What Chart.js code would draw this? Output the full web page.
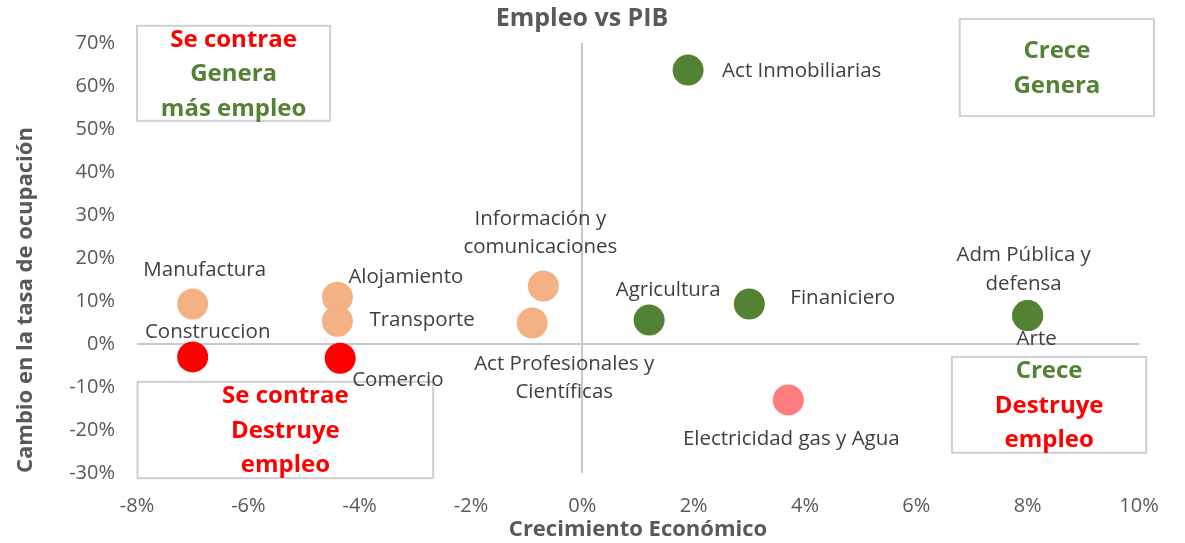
<!DOCTYPE html>
<html>
<head>
<meta charset="utf-8">
<script src="https://cdn.jsdelivr.net/npm/chart.js@4.4.0/dist/chart.umd.min.js"></script>
<style>
html,body{margin:0;padding:0;background:#ffffff;}
#wrap{width:1185px;height:543px;}
</style>
</head>
<body>
<div id="wrap"><canvas id="c" width="1185" height="543"></canvas></div>
<script>
// ---- Data ----
const sectors = ['Act Inmobiliarias', 'Arte', 'Adm Pública y defensa', 'Finaniciero', 'Agricultura',
  'Electricidad gas y Agua', 'Información y comunicaciones', 'Act Profesionales y Científicas',
  'Alojamiento', 'Transporte', 'Manufactura', 'Construccion', 'Comercio'];
const growth = [1.9, 8.0, 8.0, 3.0, 1.2, 3.7, -0.7, -0.9, -4.4, -4.4, -7.0, -7.0, -4.35];      // Crecimiento Económico (%)
const employment = [63.7, 6.6, 6.6, 9.3, 5.6, -13.0, 13.5, 4.9, 10.9, 5.3, 9.3, -3.0, -3.3];     // Cambio en la tasa de ocupación (%)
const xTicks = [-8, -6, -4, -2, 0, 2, 4, 6, 8, 10];
const yTicks = [-30, -20, -10, 0, 10, 20, 30, 40, 50, 60, 70];

const chartTitle = 'Empleo vs PIB';
const xTitle = 'Crecimiento Económico';
const yTitle = 'Cambio en la tasa de ocupación';

// ---- Styles ----
const GREEN = '#548235', ORANGE = '#F4B183', RED = '#FF0000', SALMON = '#FF7C80';
const GREY = '#595959', LABEL = '#404040', AXISLINE = '#c8c8c8';
const FONT = '"Open Sans", "Noto Sans", sans-serif';

function quadColor(x, y) {
  if (x >= 0) return y >= 0 ? GREEN : SALMON;
  return y >= 0 ? ORANGE : RED;
}

// label placement relative to the point (px), a style setting
const labelPlacement = {
  'Act Inmobiliarias': {dx: 34, dy: 1, align: 'left'},
  'Arte': {dx: 9, dy: 24, align: 'center'},
  'Adm Pública y defensa': {dx: -4, dy: -60, align: 'center', lines: ['Adm Pública y', 'defensa']},
  'Finaniciero': {dx: 41, dy: -6, align: 'left'},
  'Agricultura': {dx: 19, dy: -30, align: 'center'},
  'Electricidad gas y Agua': {dx: 3, dy: 39, align: 'center'},
  'Información y comunicaciones': {dx: -3, dy: -67, align: 'center', lines: ['Información y', 'comunicaciones']},
  'Act Profesionales y Científicas': {dx: 32, dy: 41, align: 'center', lines: ['Act Profesionales y', 'Científicas']},
  'Alojamiento': {dx: 11, dy: -20, align: 'left'},
  'Transporte': {dx: 32, dy: -1, align: 'left'},
  'Manufactura': {dx: 12, dy: -34, align: 'center'},
  'Construccion': {dx: 15, dy: -25, align: 'center'},
  'Comercio': {dx: 12, dy: 22, align: 'left'}
};

// quadrant note boxes (in data units)
const quadrantBoxes = [
  {x0: -8.0, x1: -4.53, y0: 51.9, y1: 74.0, lines: [['Se contrae', RED], ['Genera', GREEN], ['más empleo', GREEN]]},
  {x0: 6.78, x1: 10.27, y0: 53.0, y1: 75.6, lines: [['Crece', GREEN], ['Genera', GREEN]]},
  {x0: -7.99, x1: -2.68, y0: -31.2, y1: -8.8, lines: [['Se contrae', RED], ['Destruye', RED], ['empleo', RED]]},
  {x0: 6.64, x1: 10.13, y0: -25.3, y1: -3.0, lines: [['Crece', GREEN], ['Destruye', RED], ['empleo', RED]]}
];

const points = growth.map((g, i) => ({x: g, y: employment[i]}));

const annotPlugin = {
  id: 'annot',
  beforeDatasetsDraw(chart) {
    const {ctx, scales: {x, y}} = chart;
    ctx.save();
    quadrantBoxes.forEach(b => {
      const l = x.getPixelForValue(b.x0), r = x.getPixelForValue(b.x1);
      const t = y.getPixelForValue(b.y1), bt = y.getPixelForValue(b.y0);
      ctx.fillStyle = '#ffffff';
      ctx.fillRect(l, t, r - l, bt - t);
      ctx.strokeStyle = '#d0d0d0';
      ctx.lineWidth = 2;
      ctx.strokeRect(l, t, r - l, bt - t);
      ctx.font = 'bold 24px ' + FONT;
      ctx.textAlign = 'center';
      ctx.textBaseline = 'middle';
      const cx = (l + r) / 2, cy = (t + bt) / 2, n = b.lines.length, lh = 34.5;
      b.lines.forEach((ln, i) => {
        ctx.fillStyle = ln[1];
        ctx.fillText(ln[0], cx, cy + (i - (n - 1) / 2) * lh + 1);
      });
    });
    ctx.restore();
  },
  afterDatasetsDraw(chart) {
    const {ctx} = chart;
    const meta = chart.getDatasetMeta(0);
    ctx.save();
    ctx.font = '20.5px ' + FONT;
    ctx.fillStyle = LABEL;
    ctx.textBaseline = 'middle';
    sectors.forEach((name, i) => {
      const p = labelPlacement[name];
      const el = meta.data[i];
      if (!p || !el) return;
      const lines = p.lines || [name];
      ctx.textAlign = p.align;
      lines.forEach((ln, k) => {
        ctx.fillText(ln, el.x + p.dx, el.y + p.dy + k * 28.5);
      });
    });
    // chart title
    ctx.font = 'bold 25px ' + FONT;
    ctx.fillStyle = GREY;
    ctx.textAlign = 'center';
    ctx.fillText(chartTitle, 582, 19);
    ctx.restore();
  }
};

new Chart(document.getElementById('c'), {
  type: 'scatter',
  data: {
    labels: sectors,
    datasets: [{
      label: 'Sectores',
      data: points,
      backgroundColor: ctx => { const r = ctx.raw; return r ? quadColor(r.x, r.y) : GREEN; },
      borderWidth: 0,
      pointRadius: 15.5,
      pointHoverRadius: 15.5
    }]
  },
  options: {
    responsive: false,
    animation: false,
    devicePixelRatio: 1,
    layout: {padding: {left: 0, right: 46, top: 43, bottom: 0}},
    plugins: {legend: {display: false}, tooltip: {enabled: false}, title: {display: false}},
    scales: {
      x: {
        type: 'linear', min: -8, max: 10,
        afterBuildTicks: s => { s.ticks = xTicks.map(v => ({value: v})); },
        afterFit: s => { s.height = 70; },
        ticks: {callback: v => v + '%', font: {family: FONT, size: 20}, color: GREY, padding: 21, maxRotation: 0},
        grid: {drawTicks: false, lineWidth: 2, color: c => (c.tick && c.tick.value === 0) ? AXISLINE : 'rgba(0,0,0,0)'},
        border: {display: false},
        title: {display: true, text: xTitle, color: GREY, font: {family: FONT, size: 22, weight: 'bold'}, padding: {top: 0, bottom: 0}}
      },
      y: {
        type: 'linear', min: -30, max: 70,
        afterBuildTicks: s => { s.ticks = yTicks.map(v => ({value: v})); },
        afterFit: s => { s.width = 137; },
        ticks: {callback: v => v + '%', font: {family: FONT, size: 20}, color: GREY, padding: 22},
        grid: {drawTicks: false, lineWidth: 2, color: c => (c.tick && c.tick.value === 0) ? AXISLINE : 'rgba(0,0,0,0)'},
        border: {display: false},
        title: {display: true, text: yTitle, align: 'start', color: GREY, font: {family: FONT, size: 22, weight: 'bold'}, padding: {top: 13, bottom: 0}}
      }
    }
  },
  plugins: [annotPlugin]
});
</script>
</body>
</html>
